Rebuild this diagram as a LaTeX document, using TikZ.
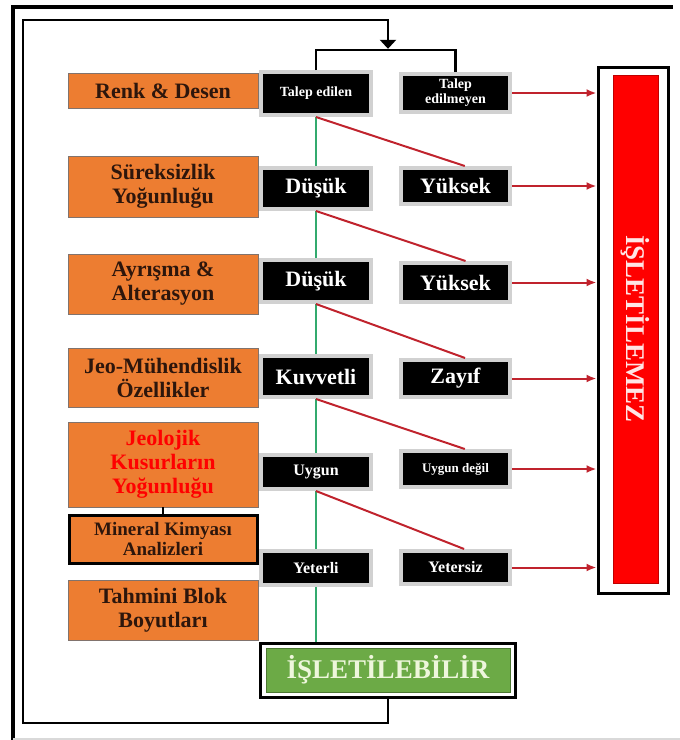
\documentclass[tikz,border=0pt]{standalone}
\usepackage{fontspec}
\setmainfont{Liberation Serif}
\usetikzlibrary{arrows.meta}
\definecolor{turuncu}{RGB}{237,125,49}
\definecolor{yazi}{RGB}{45,22,12}
\definecolor{koyukirmizi}{RGB}{192,35,45}
\definecolor{yesil}{RGB}{50,170,110}
\definecolor{yesilkutu}{RGB}{108,170,70}
\definecolor{acikyazi}{RGB}{238,246,220}
\begin{document}
\begin{tikzpicture}[x=1pt,y=-1pt,>={Latex[length=10pt,width=8pt]},
    ozellik/.style={draw=yazi!60,line width=.8pt,fill=turuncu,text=yazi,align=center,
      minimum width=190pt,inner sep=0pt,font=\fontsize{22}{24}\selectfont\bfseries},
    karar/.style={fill=black,draw=black!18,line width=4pt,text=white,align=center,
      minimum width=110pt,inner sep=0pt},
    buyuk/.style={font=\fontsize{22}{24}\selectfont\bfseries},
    orta/.style={font=\fontsize{16}{18}\selectfont\bfseries},
    kucuk/.style={font=\fontsize{14}{15}\selectfont\bfseries},
    ret/.style={->,koyukirmizi,line width=2pt},
    gecis/.style={koyukirmizi,line width=2pt},
    uygun/.style={yesil,line width=2pt},
    dongu/.style={line width=2.5pt}]
\useasboundingbox (0,0) rectangle (680,740);
% frame
\draw[line width=3.5pt] (13,740) -- (13,7) -- (673,7);
\draw[black!15,line width=1.5pt] (13,739) -- (680,739);

% criteria
\node[ozellik,minimum height=35pt] (o1) at (163,90.5) {Renk \& Desen};
\node[ozellik,minimum height=61pt] (o2) at (163,186.5) {Süreksizlik\\Yoğunluğu};
\node[ozellik,minimum height=60pt] (o3) at (163,284) {Ayrışma \&\\Alterasyon};
\node[ozellik,minimum height=59pt] (o4) at (163,377.5) {Jeo-Mühendislik\\Özellikler};
\node[ozellik,minimum height=85pt,text=red] (o5) at (163,464.5) {Jeolojik\\Kusurların\\Yoğunluğu};
\node[ozellik,draw=black,line width=3pt,minimum width=188pt,minimum height=48pt,
  font=\fontsize{19}{20}\selectfont\bfseries] (o6) at (163,539) {Mineral Kimyası\\Analizleri};
\node[ozellik,minimum height=60pt] (o7) at (163,610) {Tahmini Blok\\Boyutları};
\draw[line width=2pt] (o5) -- (o6);

% decisions
\node[karar,kucuk,minimum height=43pt] (m1) at (316,93.5) {Talep edilen};
\node[karar,buyuk,minimum height=41pt] (m2) at (316,188.5) {Düşük};
\node[karar,buyuk,minimum height=42pt] (m3) at (316,281) {Düşük};
\node[karar,buyuk,minimum height=41pt] (m4) at (316,376.5) {Kuvvetli};
\node[karar,orta,minimum height=34pt] (m5) at (316,472) {Uygun};
\node[karar,orta,minimum height=34pt] (m6) at (316,568) {Yeterli};

\node[karar,kucuk,minimum width=109pt,minimum height=38pt] (r1) at (455.5,93) {Talep\\edilmeyen};
\node[karar,buyuk,minimum width=109pt,minimum height=36pt] (r2) at (455.5,186) {Yüksek};
\node[karar,buyuk,minimum width=109pt,minimum height=39pt] (r3) at (455.5,282.5) {Yüksek};
\node[karar,buyuk,minimum width=109pt,minimum height=37pt] (r4) at (455.5,378.5) {Zayıf};
\node[karar,font=\fontsize{13}{14}\selectfont\bfseries,minimum width=109pt,minimum height=36pt] (r5) at (455.5,469) {Uygun değil};
\node[karar,orta,minimum width=109pt,minimum height=33pt] (r6) at (455.5,567.5) {Yetersiz};

% results
\node[draw,line width=3pt,fill=white,minimum width=70pt,minimum height=526pt] (ret) at (633,330) {};
\node[fill=red,draw=red!75!black,line width=1pt,rotate=-90,minimum width=508pt,minimum height=45pt,
  text=white!90!red,font=\fontsize{27}{29}\selectfont\bfseries] (retyazi) at (635.5,329) {İŞLETİLEMEZ};
\node[draw,line width=3pt,fill=white,minimum width=255pt,minimum height=54pt] (isl) at (388,670) {};
\node[fill=yesilkutu,draw=yesilkutu!70!black,line width=1pt,minimum width=244pt,minimum height=44pt,
  text=acikyazi,font=\fontsize{27}{29}\selectfont\bfseries] (islyazi) at (isl) {İŞLETİLEBİLİR};

% connectors
\draw[uygun] (m1) -- (m2) -- (m3) -- (m4) -- (m5) -- (m6) -- (m6 |- isl.north);
\foreach \a/\b in {1/2,2/3,3/4,4/5,5/6}
  \draw[gecis] (m\a.south) -- (r\b.65);
\foreach \i in {1,...,6}
  \draw[ret] (r\i) -- (r\i -| ret.west);

\coordinate (solalt) at (23,723);
\coordinate (solust) at (23,20);
\coordinate (dal) at (388,50);
\draw[dongu,-{Triangle[width=16pt,length=9pt]},shorten >=1.2pt] (isl.south) |- (solalt) -- (solust) -| (dal);
\draw[dongu] (m1.north) |- (dal) -| (r1.north);
\end{tikzpicture}
\end{document}
